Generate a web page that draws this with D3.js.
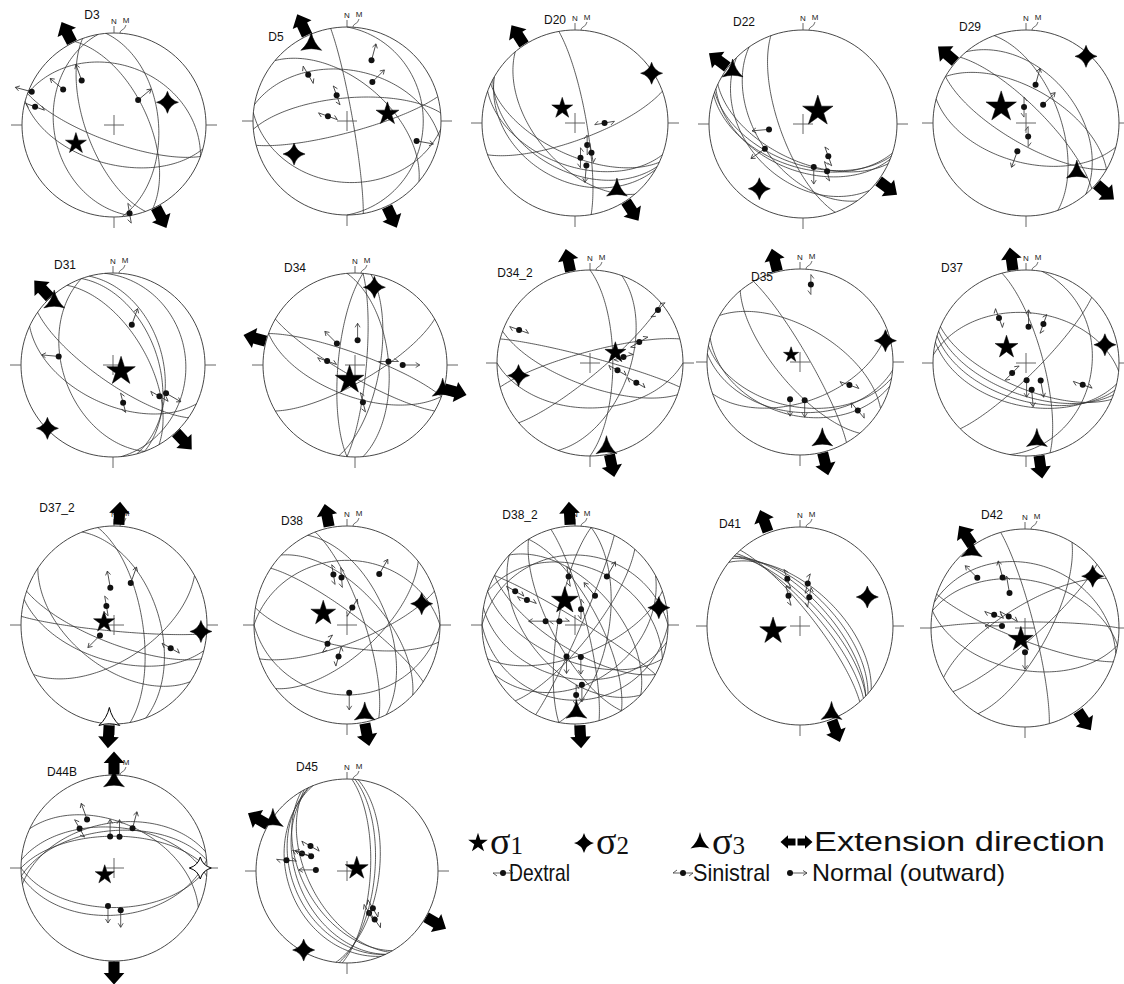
<!DOCTYPE html>
<html>
<head>
<meta charset="utf-8">
<script src="https://cdn.jsdelivr.net/npm/d3@7"></script>
<style>
body{margin:0;background:#fff;}
text{font-family:"Liberation Sans",Arial,sans-serif;}
</style>
</head>
<body>
<svg id="chart" width="1124" height="984"></svg>
<script>
// ---- data ----
var netNames = ["D3","D5","D20","D22","D29","D31","D34","D34_2","D35","D37",
                "D37_2","D38","D38_2","D41","D42","D44B","D45"];

// fault planes as [dip direction, dip]
var planes = [
  [[200,75],[195,55],[85,50],[260,35],[20,35],[65,60],[250,65]],
  [[80,85],[10,45],[355,70],[165,80],[185,35],[90,20],[40,55]],
  [[80,80],[205,62],[200,52],[208,47],[160,75],[230,55],[210,38]],
  [[200,55],[198,52],[202,49],[205,58],[250,70],[235,50],[225,40]],
  [[45,75],[70,60],[210,72],[195,55],[50,45],[30,60]],
  [[75,45],[70,50],[250,45],[215,75],[205,55],[85,22],[60,60]],
  [[210,80],[95,80],[100,68],[85,60],[275,75],[150,75],[200,62],[20,80]],
  [[15,85],[345,80],[140,80],[110,55],[90,70],[180,50],[200,70]],
  [[190,50],[185,45],[195,42],[60,82],[230,70],[160,55],[30,60]],
  [[200,62],[197,57],[203,68],[193,52],[5,45],[75,75],[135,80],[100,30]],
  [[200,75],[195,60],[215,55],[150,60],[70,50],[80,65],[185,85]],
  [[45,60],[70,75],[65,55],[140,65],[190,72],[160,75],[180,30],[0,35],[35,80]],
  [[200,60],[190,45],[210,70],[160,65],[45,55],[60,70],[75,80],[100,60],[130,75],
   [20,40],[0,30],[240,70],[280,75],[150,40],[180,25],[115,85],[225,50],[30,85]],
  [[45,70],[45,66],[43,62],[47,74],[40,58],[50,78]],
  [[0,85],[10,50],[330,72],[140,80],[75,82],[120,70],[200,80],[190,55],[15,35]],
  [[355,57],[0,62],[5,54],[350,50],[180,55],[175,48],[25,50]],
  [[245,40],[245,45],[240,50],[248,35],[242,55],[95,65],[97,61],[93,69]]
];

// principal stress axes as [trend, plunge]
var sigma1 = [[244,52],[80,54],[319,73],[49,73],[303,64],[128,81],[200,76],[68,66],[309,80],[309,68],
              [285,81],[295,67],[336,68],[260,66],[201,80],[234,80],[75,81]];
var sigma2 = [[67,37],[238,34],[57,2],[214,18],[42,4],[226,1],[14,14],[260,23],[76,6],[77,14],
              [94,7],[75,18],[79,9],[68,23],[54,12],[90,8],[209,2]];
var sigma3 = [null,[335,11],[148,16],[307,7],[134,25],[317,7],[106,1],[169,8],[164,14],[172,17],
              [183,5],[168,9],[179,13],[159,6],[324,4],[0,7],[304,2]];

// nets where the axis was drawn as an open symbol
var openSigma2 = ["D44B"];
var openSigma3 = ["D37_2"];

// extension direction (trend)
var extension = [153,155,147,127,131,137,105,168,166,172,183,169,177,160,146,180,120];

// striae: [trend, plunge, slip azimuth, sense]  n = normal, d = dextral, s = sinistral
var striae = [
  [[292,4,285,"n"],[283,13,290,"d"],[305,33,310,"n"],[324,40,340,"n"],[44,59,50,"n"],[170,3,350,"s"]],
  [[22,31,15,"n"],[33,49,45,"n"],[320,36,330,"d"],[338,66,340,"s"],[284,73,290,"d"],[106,24,100,"n"]],
  [[90,64,80,"s"],[151,68,180,"d"],[151,60,170,"d"],[171,59,180,"s"],[165,51,185,"n"]],
  [[261,60,265,"n"],[237,50,235,"n"],[142,54,340,"s"],[166,51,180,"n"],[153,43,345,"s"]],
  [[14,55,15,"n"],[43,68,45,"n"],[353,76,0,"s"],[171,78,180,"d"],[197,64,200,"n"]],
  [[25,50,20,"n"],[279,40,275,"n"],[165,55,345,"s"],[124,39,120,"d"],[118,35,120,"n"]],
  [[6,68,0,"n"],[320,65,315,"n"],[278,65,290,"d"],[84,60,90,"d"],[90,47,90,"n"],[168,56,165,"s"]],
  [[295,17,290,"d"],[52,8,45,"d"],[67,42,60,"d"],[80,60,75,"d"],[105,65,120,"d"],[113,45,120,"d"]],
  [[8,17,0,"s"],[195,56,180,"n"],[173,56,180,"n"],[130,20,140,"d"],[115,41,110,"d"]],
  [[329,43,340,"d"],[4,58,0,"n"],[24,52,20,"d"],[234,75,225,"d"],[178,75,180,"n"],[140,70,170,"n"],
   [168,66,175,"n"],[111,35,110,"d"]],
  [[354,59,350,"n"],[23,52,20,"n"],[337,73,350,"s"],[235,75,225,"n"],[111,35,120,"d"]],
  [[344,46,350,"s"],[353,50,355,"s"],[34,38,30,"n"],[18,75,30,"s"],[228,67,210,"d"],[196,63,195,"s"],
   [178,32,180,"n"]],
  [[298,28,300,"d"],[296,42,290,"d"],[277,64,270,"n"],[283,76,270,"d"],[352,49,350,"s"],[35,40,30,"n"],
   [36,60,320,"n"],[22,76,0,"s"],[196,63,180,"n"],[169,63,180,"n"],[173,39,180,"n"],[179,30,180,"s"]],
  [[344,49,340,"s"],[338,63,345,"s"],[11,54,15,"d"],[19,65,10,"s"]],
  [[315,29,315,"n"],[335,43,345,"n"],[335,58,350,"n"],[292,61,290,"d"],[304,73,300,"d"],[275,70,270,"n"],
   [180,70,180,"n"]],
  [[331,40,340,"n"],[319,43,330,"s"],[353,62,0,"n"],[10,62,0,"n"],[25,51,15,"n"],[189,56,180,"n"],
   [171,52,180,"n"]],
  [[280,33,275,"d"],[291,46,290,"d"],[304,50,300,"d"],[292,55,290,"n"],[272,62,270,"n"],[145,49,150,"d"],
   [152,47,150,"d"],[150,39,145,"d"]]
];

var legendStress = ["1","2","3"];
var legendSlip = ["Dextral","Sinistral","Normal (outward)"];

// ---- layout (pixels) ----
// cx, cy, rx, ry, label dx, label dy, sigma1 star radius
var layout = [
  [114,125,92,92,-22,-110,11],[347,121,94,94,-71,-84,12],[575,123,93,93,-20,-103,11],
  [803,124,94,94,-59,-102,16],[1026,123,93,93,-56,-96,16],
  [113,365,92,92,-48,-100,15],[355,365,92,92,-60,-97,15],[590,363,93,93,-75,-90,11],
  [800,362,93,93,-38,-85,8],[1026,363,93,93,-74,-95,12],
  [114,625,93,99,-57,-117,11],[347,625,93,99,-55,-104,13],[575,625,93,99,-55,-110,14],
  [800,626,93,99,-70,-102,14],[1025,628,94,99,-33,-113,13],
  [114,868,93,93,-52,-96,10],[347,871,91,92,-40,-104,12]
];

var svg = d3.select("#chart");
var rad = Math.PI / 180;
var INK = "#333";

// Schmidt net, lower hemisphere
function project(trend, plunge){
  var rho = Math.SQRT2 * Math.sin((90 - plunge) / 2 * rad);
  return [rho * Math.sin(trend * rad), rho * Math.cos(trend * rad)];
}

function greatCircle(dd, dip){
  var s = (dd - 90) * rad, d = dd * rad, p = dip * rad;
  return d3.range(0, 181, 2).map(function(t){
    var a = t * rad;
    var e = Math.cos(a) * Math.sin(s) + Math.sin(a) * Math.sin(d) * Math.cos(p);
    var n = Math.cos(a) * Math.cos(s) + Math.sin(a) * Math.cos(d) * Math.cos(p);
    var z = Math.min(1, Math.sin(a) * Math.sin(p));
    return project(Math.atan2(e, n) / rad, Math.asin(z) / rad);
  });
}

function starPath(n, r, pinch){
  var p = d3.path();
  for (var i = 0; i <= n; i++){
    var a = (-90 + i * 360 / n) * rad;
    var x = r * Math.cos(a), y = r * Math.sin(a);
    if (i == 0) { p.moveTo(x, y); continue; }
    var c = (-90 + (i - 0.5) * 360 / n) * rad;
    p.quadraticCurveTo(r * pinch * Math.cos(c), r * pinch * Math.sin(c), x, y);
  }
  p.closePath();
  return p.toString();
}

function blockArrow(len){
  var h = len / 2, hw = len * 0.45, sw = len * 0.24;
  return "M0," + (-h) + "L" + hw + ",0L" + sw + ",0L" + sw + "," + h +
         "L" + (-sw) + "," + h + "L" + (-sw) + ",0L" + (-hw) + ",0Z";
}

function slipMark(g, x, y, az, sense){
  var m = g.append("g").attr("transform", "translate(" + x + "," + y + ") rotate(" + az + ")")
    .attr("stroke", INK).attr("stroke-width", 0.8).attr("fill", "none");
  if (sense == "n"){
    m.append("path").attr("d", "M0,0L0,-17M-2.5,-13L0,-17L2.5,-13");
  } else {
    var f = sense == "d" ? 1 : -1;
    m.append("path").attr("d", "M0,10L0,-10M0,-10L" + (-3 * f) + ",-6M0,10L" + (3 * f) + ",6");
  }
  g.append("circle").attr("cx", x).attr("cy", y).attr("r", 3).attr("fill", "#111");
}

var sigma2Shape = function(r){ return starPath(4, r, 0.3); };
var sigma3Shape = function(r){ return starPath(3, r, 0.22); };

netNames.forEach(function(name, i){
  var L = layout[i];
  var cx = L[0], cy = L[1], rx = L[2], ry = L[3];
  var x = d3.scaleLinear().domain([-1, 1]).range([cx - rx, cx + rx]);
  var y = d3.scaleLinear().domain([-1, 1]).range([cy + ry, cy - ry]);
  var line = d3.line().x(function(d){ return x(d[0]); }).y(function(d){ return y(d[1]); });
  var g = svg.append("g").attr("class", "net");

  // fault planes
  g.selectAll("path.gc").data(planes[i]).enter().append("path")
    .attr("class", "gc")
    .attr("d", function(d){ return line(greatCircle(d[0], d[1])); })
    .attr("fill", "none").attr("stroke", INK).attr("stroke-width", 0.8);

  // primitive
  var prim = d3.range(0, 361, 3).map(function(t){ return project(t, 0); });
  g.append("path").attr("d", line(prim)).attr("fill", "none")
    .attr("stroke", INK).attr("stroke-width", 0.9);

  // centre cross and ticks
  var ticks = "M" + (cx - 10) + "," + cy + "H" + (cx + 10) + "M" + cx + "," + (cy - 10) + "V" + (cy + 10) +
    "M" + x(-1) + "," + cy + "h-11M" + x(1) + "," + cy + "h11M" + cx + "," + y(-1) + "v11" +
    "M" + cx + "," + y(1) + "v-7";
  g.append("path").attr("d", ticks).attr("stroke", "#555").attr("stroke-width", 0.9);
  g.append("text").attr("x", cx).attr("y", y(1) - 9).attr("text-anchor", "middle")
    .attr("font-size", 8).attr("fill", "#222").text("N");
  g.append("text").attr("x", cx + 12).attr("y", y(1) - 10).attr("text-anchor", "middle")
    .attr("font-size", 8).attr("fill", "#222").text("M");
  g.append("path").attr("d", "M" + (cx + 12) + "," + (y(1) - 8) + "q-1,4 -4,5 q-2,1 -2,3")
    .attr("fill", "none").attr("stroke", INK).attr("stroke-width", 0.7);

  // striae
  striae[i].forEach(function(s){
    var p = project(s[0], s[1]);
    slipMark(g, x(p[0]), y(p[1]), s[2], s[3]);
  });

  // stress axes
  function axisMark(v, path, open){
    if (!v) return;
    var p = project(v[0], v[1]);
    g.append("path").attr("d", path)
      .attr("transform", "translate(" + x(p[0]) + "," + y(p[1]) + ")")
      .attr("fill", open ? "#fff" : "#000").attr("stroke", "#000").attr("stroke-width", open ? 1 : 0.5);
  }
  axisMark(sigma3[i], sigma3Shape(12), openSigma3.indexOf(name) >= 0);
  axisMark(sigma2[i], sigma2Shape(11), openSigma2.indexOf(name) >= 0);
  axisMark(sigma1[i], d3.symbol(d3.symbolStar, L[6] * L[6] / 0.8908)(), false);

  // extension arrows
  [extension[i], extension[i] + 180].forEach(function(t){
    var u = 1.13 * Math.sin(t * rad), v = 1.13 * Math.cos(t * rad);
    g.append("path").attr("d", blockArrow(23))
      .attr("transform", "translate(" + x(u) + "," + y(v) + ") rotate(" + t + ")")
      .attr("fill", "#000");
  });

  g.append("text").attr("x", cx + L[4]).attr("y", cy + L[5]).attr("dy", "0.35em")
    .attr("text-anchor", "middle").attr("font-size", 12).attr("fill", "#111").text(name);
});

// ---- legend ----
var lg = svg.append("g").attr("class", "legend");
var stressPaths = [d3.symbol(d3.symbolStar, 120)(), sigma2Shape(10), sigma3Shape(11)];
var stressX = [478, 584, 700];
legendStress.forEach(function(k, j){
  lg.append("path").attr("d", stressPaths[j])
    .attr("transform", "translate(" + stressX[j] + ",843)").attr("fill", "#000");
  var t = lg.append("text").attr("x", stressX[j] + 12).attr("y", 854)
    .style("font-family", "'Liberation Serif','Times New Roman',serif").attr("fill", "#111");
  t.append("tspan").attr("font-size", 38).text("\u03c3");
  t.append("tspan").attr("font-size", 25).text(k);
});
lg.append("path").attr("d", blockArrow(15)).attr("transform", "translate(788,842) rotate(270)");
lg.append("path").attr("d", blockArrow(15)).attr("transform", "translate(805,842) rotate(90)");
lg.append("text").attr("x", 814).attr("y", 851).attr("font-size", 27).attr("fill", "#111")
  .attr("textLength", 291).attr("lengthAdjust", "spacingAndGlyphs")
  .text("Extension direction");

var slipX = [503, 683, 790], slipTextX = [509, 693, 812], slipLen = [61, 77, 193];
var slipSense = ["d", "s", "n"];
legendSlip.forEach(function(k, j){
  slipMark(lg, slipX[j], 873, slipSense[j] == "n" ? 90 : 270, slipSense[j]);
  lg.append("text").attr("x", slipTextX[j]).attr("y", 881).attr("font-size", 24)
    .attr("textLength", slipLen[j]).attr("lengthAdjust", "spacingAndGlyphs")
    .attr("fill", "#111").text(k);
});
</script>
</body>
</html>
